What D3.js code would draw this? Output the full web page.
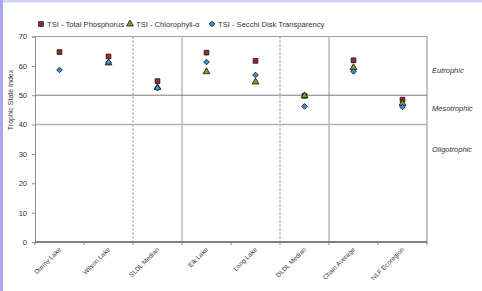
<!DOCTYPE html>
<html>
<head>
<meta charset="utf-8">
<script src="https://d3js.org/d3.v7.min.js"></script>
<style>
  body { margin: 0; background: #fff; }
  svg { display: block; font-family: "Liberation Sans", Arial, sans-serif; }
</style>
</head>
<body>
<script>
// data
var lakes = ["Dunny Lake", "Wilson Lake", "SLDL Median", "Elk Lake", "Long Lake", "DLDL Median", "Chain Average", "NLF Ecoregion"];
var tsiPhos = [64.7, 63.2, 54.8, 64.5, 61.7, 49.8, 61.9, 48.5];
var tsiChl = [null, 61.0, 52.6, 58.0, 54.5, 49.8, 59.4, 47.2];
var tsiSecchi = [58.6, 61.2, 52.4, 61.3, 56.9, 46.2, 58.1, 46.0];
var yTicks = [0, 10, 20, 30, 40, 50, 60, 70];
var zones = [{name: "Eutrophic", y: 73}, {name: "Mesotrophic", y: 111}, {name: "Oligotrophic", y: 152}];

var W = 482, H = 291;
var pLeft = 35, pRight = 427, pTop = 36.5, pBottom = 242;

var svg = d3.select("body").append("svg").attr("width", W).attr("height", H);

// lavender frame
svg.append("rect").attr("width", W).attr("height", H).attr("fill", "#fff");
svg.append("rect").attr("x", 0).attr("y", 0).attr("width", W).attr("height", 2.5).attr("fill", "#d2d2fa");
svg.append("rect").attr("x", 0).attr("y", 0).attr("width", 3).attr("height", H).attr("fill", "#a8a8f0");

var x = d3.scaleBand().domain(lakes).range([pLeft, pRight]);
var y = d3.scaleLinear().domain([0, 70]).range([pBottom, pTop]);

// plot border
svg.append("line").attr("x1", pLeft).attr("x2", pRight).attr("y1", pTop).attr("y2", pTop).attr("stroke", "#a0a0a0");
svg.append("line").attr("x1", pRight).attr("x2", pRight).attr("y1", pTop).attr("y2", pBottom).attr("stroke", "#a0a0a0").attr("stroke-width", 1.2);

// group dividers
[2, 5].forEach(function(i) {
  svg.append("line").attr("x1", x(lakes[i])).attr("x2", x(lakes[i]))
    .attr("y1", pTop).attr("y2", pBottom).attr("stroke", "#808080").attr("stroke-dasharray", "2,2");
});
[3, 6].forEach(function(i) {
  svg.append("line").attr("x1", x(lakes[i])).attr("x2", x(lakes[i]))
    .attr("y1", pTop).attr("y2", pBottom).attr("stroke", "#b0b0b0").attr("stroke-width", 1.3);
});

// trophic boundaries
svg.append("line").attr("x1", pLeft).attr("x2", pRight).attr("y1", y(50)).attr("y2", y(50))
  .attr("stroke", "#7a7a7a").attr("stroke-width", 1);
svg.append("line").attr("x1", pLeft).attr("x2", pRight).attr("y1", y(40)).attr("y2", y(40))
  .attr("stroke", "#b4b4b4").attr("stroke-width", 1.6);

// y axis
var yAxis = svg.append("g").attr("transform", "translate(" + pLeft + ",0)")
  .call(d3.axisLeft(y).tickValues(yTicks).tickSize(3).tickPadding(5));
yAxis.select(".domain").attr("stroke", "#909090");
yAxis.selectAll(".tick line").attr("stroke", "#909090");
yAxis.selectAll("text").attr("font-size", 7.5).attr("fill", "#333").attr("font-family", "Liberation Sans, Arial");

// x axis
svg.append("line").attr("x1", pLeft).attr("x2", pRight).attr("y1", pBottom).attr("y2", pBottom)
  .attr("stroke", "#808080").attr("stroke-width", 2);
var bounds = lakes.map(function(d) { return x(d); }).concat([pRight]);
svg.selectAll(".xt").data(bounds).enter().append("line")
  .attr("x1", function(d) { return d; }).attr("x2", function(d) { return d; })
  .attr("y1", pBottom).attr("y2", pBottom + 3).attr("stroke", "#808080");
svg.selectAll(".xl").data(lakes).enter().append("text")
  .attr("transform", function(d) {
    return "translate(" + (x(d) + x.bandwidth() / 2 + 2) + "," + (pBottom + 8) + ") rotate(-45)";
  })
  .attr("text-anchor", "end").attr("font-size", 6.5).attr("fill", "#333").text(function(d) { return d; });

// axis title
svg.append("text").attr("transform", "translate(13,100) rotate(-90)")
  .attr("text-anchor", "middle").attr("font-size", 7).attr("fill", "#333").text("Trophic State Index");

// zone labels
svg.selectAll(".zone").data(zones).enter().append("text")
  .attr("x", 432).attr("y", function(d) { return d.y; })
  .attr("font-size", 7.5).attr("font-style", "italic").attr("fill", "#333").text(function(d) { return d.name; });

var cx = function(i) { return x(lakes[i]) + x.bandwidth() / 2; };
var squat = {
  draw: function(ctx, size) {
    var r = Math.sqrt(size / 2);
    ctx.moveTo(0, -r); ctx.lineTo(r, 0); ctx.lineTo(0, r); ctx.lineTo(-r, 0); ctx.closePath();
  }
};
var sq = d3.symbol().type(d3.symbolSquare).size(22);
var tri = d3.symbol().type(d3.symbolTriangle).size(20);
var dia = d3.symbol().type(squat).size(16);

function drawSeries(vals, sym, fill) {
  svg.append("g").selectAll("path").data(vals.map(function(v, i) { return {v: v, i: i}; })
      .filter(function(d) { return d.v != null; }))
    .enter().append("path")
    .attr("d", sym)
    .attr("transform", function(d) { return "translate(" + cx(d.i) + "," + y(d.v) + ")"; })
    .attr("fill", fill).attr("stroke", "#111").attr("stroke-width", 0.8);
}
drawSeries(tsiPhos, sq, "#a02828");
drawSeries(tsiChl, tri, "#8c9a2c");
drawSeries(tsiSecchi, dia, "#3a8ee0");

// legend
var legend = [
  {label: "TSI - Total Phosphorus", sym: sq, fill: "#a02828", x: 41},
  {label: "TSI - Chlorophyll-\u03b1", sym: tri, fill: "#8c9a2c", x: 130},
  {label: "TSI - Secchi Disk Transparency", sym: dia, fill: "#3a8ee0", x: 212}
];
var lg = svg.selectAll(".lg").data(legend).enter().append("g")
  .attr("transform", function(d) { return "translate(" + d.x + ",24)"; });
lg.append("path").attr("d", function(d) { return d.sym(); })
  .attr("fill", function(d) { return d.fill; }).attr("stroke", "#111").attr("stroke-width", 0.8);
lg.append("text").attr("x", 6).attr("y", 2.5).attr("font-size", 7.6).attr("fill", "#333")
  .text(function(d) { return d.label; });
</script>
</body>
</html>
